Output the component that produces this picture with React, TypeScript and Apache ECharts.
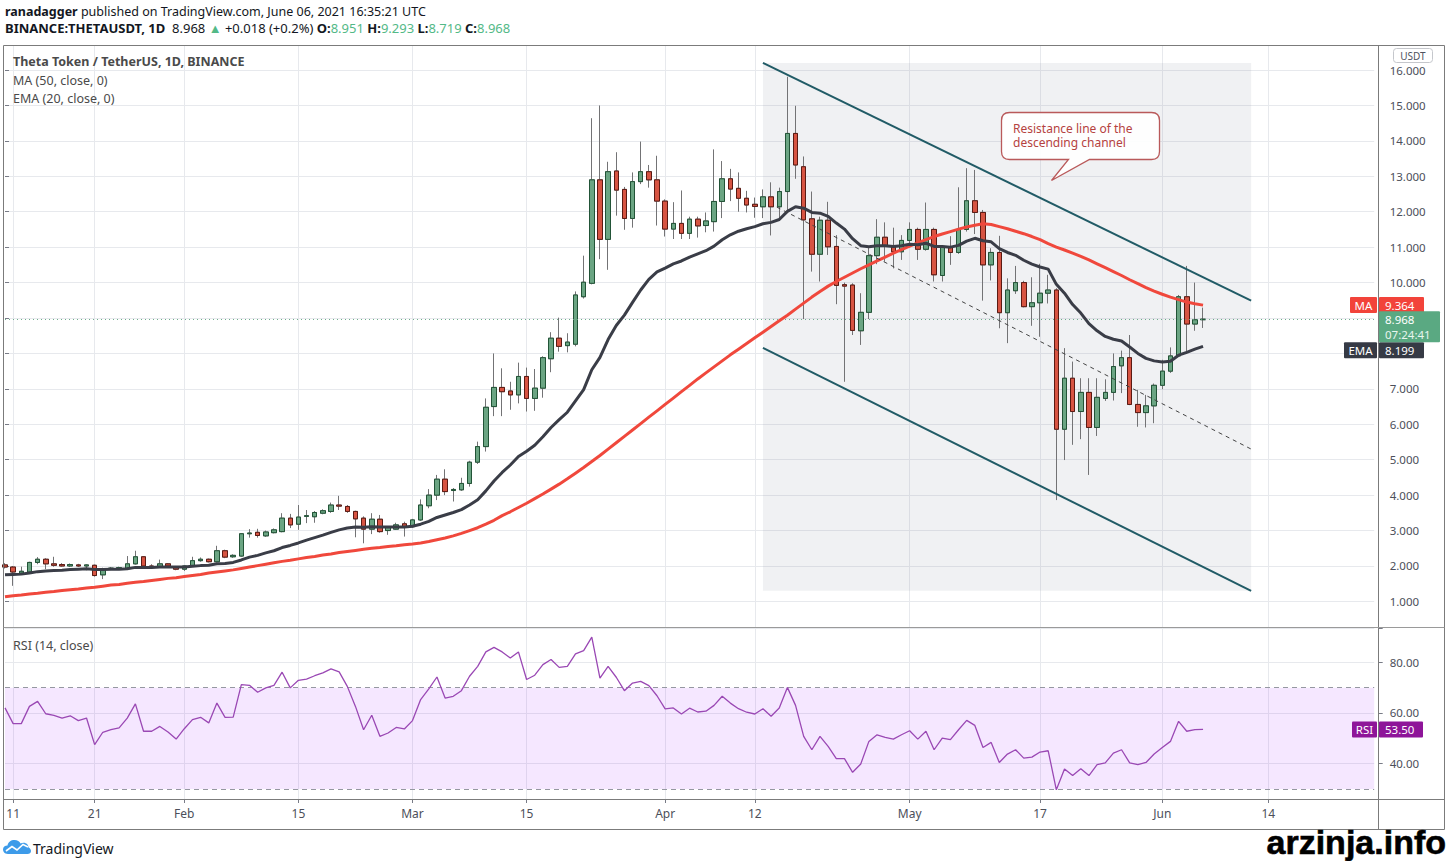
import React, { useEffect, useRef } from "react";
import * as echarts from "echarts";

const FONT = '"Noto Sans", "Open Sans", sans-serif';
const GRID_COLOR = "#e7e9ed";

// ---------- categories (one per day, Jan 10 .. Jun 27 2021) ----------
const START_UTC = Date.UTC(2021, 0, 10);
const DAY_COUNT = 169;
const DATES: string[] = Array.from({ length: DAY_COUNT }, (_, i) =>
  new Date(START_UTC + i * 86400000).toISOString().slice(0, 10)
);

const TICK_LABELS: Record<string, string> = {
  "2021-01-11": "11",
  "2021-01-21": "21",
  "2021-02-01": "Feb",
  "2021-02-15": "15",
  "2021-03-01": "Mar",
  "2021-03-15": "15",
  "2021-04-01": "Apr",
  "2021-04-12": "12",
  "2021-05-01": "May",
  "2021-05-17": "17",
  "2021-06-01": "Jun",
  "2021-06-14": "14",
};
// price ticks whose labels are hidden behind the price / EMA tags in the reference
const COVERED_PRICE_TICKS = [8, 9];

// ---------- OHLC (Jan 10 .. Jun 6) ----------
const OPEN = [
  2.03, 1.97, 1.8, 1.83, 2.1, 2.19, 2.06, 2.04, 2.0, 2.03,
  2.0, 2.02, 1.75, 1.92, 1.94, 1.94, 2.06, 2.26, 2.0, 1.97,
  2.06, 1.98, 1.91, 2.01, 2.15, 2.19, 2.12, 2.43, 2.26, 2.28,
  2.91, 2.95, 2.85, 2.94, 2.97, 3.35, 3.18, 3.4, 3.39, 3.49,
  3.54, 3.72, 3.68, 3.54, 3.35, 3.04, 3.32, 3.0, 3.04, 3.19,
  3.11, 3.3, 3.7, 4.0, 4.45, 4.13, 4.15, 4.33, 4.93, 5.37,
  6.5, 7.04, 6.94, 6.83, 7.35, 6.73, 7.02, 7.85, 8.43, 8.22,
  8.26, 9.6, 9.98, 12.9, 11.22, 13.15, 12.63, 11.81, 12.85, 13.13,
  12.9, 12.3, 11.51, 11.67, 11.39, 11.79, 11.61, 11.72, 12.29, 12.93,
  12.66, 12.38, 12.21, 12.14, 12.42, 12.14, 12.57, 14.21, 13.27, 11.8,
  10.8, 11.76, 11.02, 9.94, 9.93, 8.64, 9.16, 10.76, 11.28, 11.04,
  10.87, 11.19, 11.5, 10.94, 11.5, 10.2, 10.99, 10.85, 11.5, 12.31,
  11.98, 10.5, 10.85, 9.15, 9.77, 10.0, 9.32, 9.43, 9.7, 9.79,
  5.86, 7.3, 6.36, 6.9, 5.91, 6.73, 6.9, 7.65, 7.88, 6.56,
  6.33, 6.52, 7.1, 7.5, 7.93, 9.6, 8.83, 8.951,
];
const HIGH = [
  2.08, 2.0, 1.98, 2.12, 2.25, 2.22, 2.26, 2.08, 2.07, 2.06,
  2.05, 2.04, 1.95, 1.97, 1.98, 2.28, 2.43, 2.28, 2.05, 2.18,
  2.08, 2.0, 2.02, 2.26, 2.24, 2.21, 2.57, 2.46, 2.33, 2.93,
  3.04, 3.05, 3.0, 3.06, 3.49, 3.47, 3.72, 3.58, 3.55, 3.6,
  3.79, 3.98, 3.72, 3.56, 3.4, 3.49, 3.44, 3.12, 3.22, 3.25,
  3.33, 3.88, 4.17, 4.57, 4.73, 4.2, 4.49, 4.97, 5.51, 6.73,
  8.0, 7.58, 7.2, 7.74, 7.6, 7.56, 7.92, 8.6, 9.01, 8.57,
  9.75, 10.76, 14.64, 15.0, 13.41, 13.68, 12.7, 13.11, 13.98, 13.32,
  13.58, 12.35, 12.27, 12.6, 11.86, 11.86, 11.98, 13.76, 13.43, 13.21,
  13.11, 12.59, 12.4, 12.63, 12.83, 12.68, 15.81, 14.99, 13.56, 12.57,
  11.86, 12.28, 11.34, 10.0, 9.98, 9.7, 11.02, 11.79, 11.7, 11.55,
  11.34, 11.7, 11.55, 12.26, 11.55, 11.06, 11.31, 12.69, 13.23, 13.18,
  12.05, 10.97, 11.32, 10.12, 10.47, 10.05, 10.15, 10.53, 10.22, 9.84,
  8.15, 7.77, 7.3, 7.3, 7.3, 7.27, 8.0, 8.08, 8.52, 6.97,
  6.83, 7.15, 7.82, 8.17, 9.65, 10.47, 10.0, 9.293,
];
const LOW = [
  1.93, 1.44, 1.78, 1.8, 2.05, 1.91, 1.98, 1.98, 1.97, 1.97,
  1.88, 1.7, 1.63, 1.89, 1.91, 1.92, 2.04, 1.98, 1.95, 1.95,
  1.98, 1.88, 1.86, 1.99, 2.12, 2.1, 2.1, 2.22, 2.23, 2.26,
  2.8, 2.8, 2.82, 2.92, 2.95, 3.07, 3.02, 3.21, 3.22, 3.46,
  3.5, 3.58, 3.5, 2.81, 2.64, 2.9, 2.94, 2.88, 3.02, 2.83,
  3.08, 3.27, 3.63, 3.86, 4.0, 3.82, 4.12, 4.24, 4.88, 5.23,
  6.23, 6.23, 6.41, 6.59, 6.36, 6.38, 6.75, 7.47, 8.05, 8.03,
  8.2, 9.55, 9.95, 10.66, 10.36, 11.89, 11.49, 11.55, 12.78, 12.68,
  11.61, 11.3, 11.23, 11.23, 11.23, 11.27, 11.42, 11.44, 11.82, 12.3,
  12.0, 11.98, 11.83, 11.82, 11.33, 11.82, 12.0, 12.93, 8.97, 10.31,
  10.03, 10.78, 9.39, 7.2, 8.52, 8.24, 8.97, 10.52, 10.59, 10.4,
  10.64, 11.11, 10.64, 10.9, 10.03, 10.03, 10.5, 10.81, 11.44, 11.37,
  9.49, 10.06, 8.71, 8.29, 9.68, 9.3, 8.78, 8.47, 9.41, 3.86,
  4.99, 5.42, 5.58, 4.57, 5.67, 6.66, 6.67, 6.88, 6.54, 5.93,
  5.91, 6.03, 6.99, 7.45, 7.9, 7.99, 8.64, 8.719,
];
const CLOSE = [
  1.97, 1.83, 1.85, 2.1, 2.19, 2.06, 2.02, 2.0, 2.04, 2.0,
  2.03, 1.73, 1.91, 1.94, 1.95, 2.06, 2.26, 2.0, 1.98, 2.06,
  2.0, 1.91, 2.0, 2.15, 2.19, 2.12, 2.43, 2.25, 2.3, 2.91,
  2.93, 2.86, 2.96, 3.02, 3.35, 3.16, 3.38, 3.42, 3.51, 3.56,
  3.72, 3.69, 3.54, 3.33, 3.04, 3.32, 2.97, 3.09, 3.16, 3.11,
  3.3, 3.72, 4.0, 4.45, 4.1, 4.16, 4.33, 4.93, 5.37, 6.48,
  7.04, 6.92, 6.83, 7.35, 6.73, 7.02, 7.88, 8.43, 8.2, 8.32,
  9.65, 10.01, 12.9, 11.22, 13.13, 12.61, 11.81, 12.85, 13.13, 12.9,
  12.3, 11.51, 11.67, 11.39, 11.79, 11.6, 11.74, 12.29, 12.93, 12.64,
  12.38, 12.19, 12.15, 12.42, 12.14, 12.57, 14.21, 13.32, 11.77, 10.8,
  11.76, 11.01, 9.92, 9.9, 8.65, 9.16, 10.76, 11.28, 11.02, 10.87,
  11.19, 11.5, 10.94, 11.5, 10.22, 11.02, 10.85, 11.5, 12.31, 11.98,
  10.5, 10.85, 9.15, 9.79, 10.0, 9.32, 9.43, 9.7, 9.79, 5.86,
  7.3, 6.36, 6.9, 5.91, 6.76, 6.9, 7.63, 7.88, 6.56, 6.33,
  6.52, 7.1, 7.5, 7.93, 9.6, 8.83, 8.95, 8.968,
];

// ---------- indicators ----------
const MA50 = [
  1.13, 1.16, 1.18, 1.21, 1.23, 1.26, 1.28, 1.31, 1.33, 1.35,
  1.38, 1.4, 1.43, 1.46, 1.48, 1.51, 1.54, 1.56, 1.59, 1.62,
  1.65, 1.67, 1.7, 1.73, 1.76, 1.8, 1.83, 1.86, 1.89, 1.93,
  1.97, 2.01, 2.05, 2.09, 2.13, 2.16, 2.2, 2.24, 2.27, 2.31,
  2.34, 2.38, 2.41, 2.44, 2.47, 2.5, 2.52, 2.55, 2.57, 2.6,
  2.62, 2.65, 2.69, 2.74, 2.79, 2.85, 2.92, 3.0, 3.08, 3.18,
  3.29, 3.42, 3.53, 3.65, 3.77, 3.9, 4.03, 4.17, 4.31, 4.46,
  4.62, 4.78, 4.95, 5.12, 5.3, 5.48, 5.66, 5.84, 6.02, 6.2,
  6.38, 6.56, 6.74, 6.92, 7.1, 7.28, 7.45, 7.62, 7.79, 7.96,
  8.12, 8.28, 8.44, 8.6, 8.76, 8.92, 9.08, 9.25, 9.42, 9.59,
  9.75, 9.9, 10.03, 10.15, 10.27, 10.39, 10.5, 10.61, 10.72, 10.83,
  10.93, 11.03, 11.12, 11.21, 11.3, 11.37, 11.44, 11.51, 11.57, 11.62,
  11.66, 11.64, 11.58, 11.52, 11.45, 11.38, 11.3, 11.21, 11.1, 11.0,
  10.92, 10.83, 10.74, 10.64, 10.53, 10.42, 10.31, 10.2, 10.08, 9.97,
  9.86, 9.76, 9.67, 9.59, 9.52, 9.45, 9.4, 9.364,
];
const EMA20 = [
  1.75, 1.76, 1.77, 1.8, 1.84, 1.86, 1.87, 1.88, 1.9, 1.91,
  1.92, 1.9, 1.9, 1.91, 1.91, 1.92, 1.96, 1.96, 1.96, 1.97,
  1.97, 1.97, 1.97, 1.99, 2.01, 2.02, 2.06, 2.07, 2.1, 2.17,
  2.25, 2.3, 2.37, 2.43, 2.52, 2.58, 2.65, 2.73, 2.8, 2.87,
  2.95, 3.02, 3.07, 3.1, 3.09, 3.11, 3.1, 3.1, 3.1, 3.1,
  3.12, 3.18, 3.26, 3.37, 3.44, 3.51, 3.59, 3.72, 3.87, 4.12,
  4.4, 4.64, 4.85, 5.09, 5.24, 5.41, 5.65, 5.91, 6.13, 6.34,
  6.66, 6.98, 7.54, 7.89, 8.39, 8.79, 9.08, 9.44, 9.79, 10.09,
  10.3, 10.41, 10.53, 10.61, 10.72, 10.81, 10.9, 11.03, 11.21, 11.35,
  11.45, 11.52, 11.58, 11.66, 11.7, 11.78, 12.01, 12.14, 12.1, 11.98,
  11.96, 11.87, 11.68, 11.51, 11.24, 11.04, 11.01, 11.04, 11.04, 11.02,
  11.04, 11.08, 11.07, 11.11, 11.02, 11.02, 11.0, 11.05, 11.17, 11.25,
  11.18, 11.15, 10.96, 10.85, 10.77, 10.63, 10.52, 10.44, 10.38, 9.95,
  9.7, 9.38, 9.14, 8.84, 8.64, 8.48, 8.4, 8.35, 8.18, 8.0,
  7.86, 7.79, 7.76, 7.78, 7.95, 8.03, 8.12, 8.199,
];
const RSI14 = [
  62.0, 55.8, 55.8, 62.6, 64.6, 59.7, 59.1, 58.0, 58.9, 57.0,
  58.0, 47.5, 52.4, 53.4, 54.1, 58.0, 63.6, 52.8, 52.8, 54.7,
  52.5, 49.7, 53.8, 57.4, 58.3, 56.1, 63.9, 58.3, 58.4, 71.2,
  70.9, 68.2, 69.9, 70.9, 76.1, 69.9, 72.9, 73.4, 74.7, 75.8,
  77.4, 76.2, 70.5, 62.6, 53.4, 59.1, 50.8, 52.1, 54.3, 53.7,
  57.0, 65.3, 69.5, 74.2, 65.9, 66.6, 68.8, 74.5, 78.4, 84.1,
  85.9, 84.1, 81.7, 84.1, 73.2, 74.9, 79.1, 81.1, 78.0, 78.4,
  83.3, 84.6, 89.9, 73.8, 78.4, 74.1, 68.8, 71.8, 72.5, 70.8,
  66.8, 61.6, 62.0, 59.6, 61.9, 60.4, 60.7, 63.0, 66.6, 63.9,
  61.7, 60.3, 59.6, 61.7, 58.7, 62.0, 70.1, 63.0, 50.8, 45.5,
  50.8, 46.8, 42.0, 42.0, 36.6, 39.9, 48.8, 51.4, 50.4, 49.7,
  51.4, 53.0, 49.7, 52.8, 45.5, 50.1, 49.5, 53.4, 57.1, 55.1,
  46.4, 48.4, 40.5, 43.8, 45.5, 42.2, 42.6, 44.6, 45.1, 29.7,
  37.9, 35.3, 38.0, 35.3, 39.6, 40.3, 44.2, 45.5, 40.3, 39.6,
  40.5, 43.8, 46.4, 48.8, 56.7, 52.8, 53.4, 53.5,
];

const LAST_PRICE = 8.968;
const LAST_MA = 9.364;
const LAST_EMA = 8.199;
const LAST_RSI = 53.5;
const RSI_UPPER = 70;
const RSI_LOWER = 30;

// ---------- drawings, anchored as [day index, price] ----------
const CHANNEL_UPPER = [[93.0, 16.2], [152.9, 9.49]];
const CHANNEL_LOWER = [[93.0, 8.155], [152.9, 1.3]];
const CHANNEL_MID = [[94.7, 12.13], [152.9, 5.3]];
const SHADE_FROM = [93.0, 16.2];
const SHADE_TO = [152.9, 1.3];

// ---------- shapes ----------
const CALLOUT_PATH =
  "M8 0 H150 Q158 0 158 8 V39 Q158 47 150 47 H88 L50 68 L67 47 H8 Q0 47 0 39 V8 Q0 0 8 0 Z";
const TV_CLOUD_PATH =
  "M5 15 C1 15 0 12 0 10.5 C0 8 2 6.5 4.5 6.5 C5 3 8 1 11.5 1 C14.5 1 16.5 2.5 17.5 4.5 C18.5 4 19.5 3.8 20.5 3.8 C23.5 3.8 25.5 6 25.5 8.5 C27 9 28 10.5 28 12 C28 14 26.5 15 24.5 15 Z";
echarts.graphic.registerShape("callout", echarts.graphic.extendPath(CALLOUT_PATH, {}));
echarts.graphic.registerShape("tvcloud", echarts.graphic.extendPath(TV_CLOUD_PATH, {}));

const tickFilter = (_i: number, v: string) => v in TICK_LABELS;
const near = (v: number, step: number) => Math.abs(v / step - Math.round(v / step)) < 1e-6;

function buildOption(): any {
  const candles = OPEN.map((o, i) => [o, CLOSE[i], LOW[i], HIGH[i]]);
  const bodies = OPEN.map((o, i) => [o, CLOSE[i], Math.min(o, CLOSE[i]), Math.max(o, CLOSE[i])]);
  return {
    animation: false,
    backgroundColor: "#ffffff",
    textStyle: { fontFamily: FONT },
    grid: [
      { left: 5, right: 76.8, top: 45, height: 582 },
      { left: 5, right: 76.8, top: 628, height: 171 },
    ],
    xAxis: [
      {
        type: "category", gridIndex: 0, data: DATES, boundaryGap: false,
        axisLine: { show: false }, axisTick: { show: false }, axisLabel: { show: false },
        splitLine: { show: true, interval: tickFilter, lineStyle: { color: GRID_COLOR } },
      },
      {
        type: "category", gridIndex: 1, data: DATES, boundaryGap: false,
        axisLine: { show: false },
        axisTick: { show: true, interval: tickFilter, length: 4, lineStyle: { color: "#787b86" } },
        axisLabel: {
          show: true, interval: tickFilter, formatter: (v: string) => TICK_LABELS[v] ?? "",
          color: "#4c4f5a", fontSize: 12, margin: 8, fontFamily: FONT,
        },
        splitLine: { show: true, interval: tickFilter, lineStyle: { color: GRID_COLOR } },
      },
      { type: "value", gridIndex: 0, min: 0, max: 168, show: false },
    ],
    yAxis: [
      {
        type: "value", gridIndex: 0, position: "right", offset: 4.5,
        min: 0.2774, max: 16.7066, minInterval: 1, maxInterval: 1,
        axisLine: { show: false },
        axisTick: { show: true, length: 4, lineStyle: { color: "#787b86" } },
        axisLabel: {
          color: "#4c4f5a", fontSize: 11.5, margin: 11, fontFamily: FONT,
          formatter: (v: number) =>
            near(v, 1) && !COVERED_PRICE_TICKS.includes(Math.round(v)) ? v.toFixed(3) : "",
        },
        splitLine: { show: true, lineStyle: { color: GRID_COLOR } },
      },
      {
        type: "value", gridIndex: 1, position: "right", offset: 4.5,
        min: 26.07, max: 93.53, minInterval: 20, maxInterval: 20,
        axisLine: { show: false },
        axisTick: { show: true, length: 4, lineStyle: { color: "#787b86" } },
        axisLabel: {
          color: "#4c4f5a", fontSize: 11.5, margin: 11, fontFamily: FONT,
          formatter: (v: number) => (near(v, 20) ? v.toFixed(2) : ""),
        },
        splitLine: { show: true, lineStyle: { color: GRID_COLOR } },
      },
    ],
    series: [
      {
        name: "shade", type: "line", xAxisIndex: 2, yAxisIndex: 0, z: 1, silent: true,
        data: [SHADE_FROM, SHADE_TO], showSymbol: false, symbol: "none",
        lineStyle: { width: 0, opacity: 0 },
        markArea: {
          silent: true,
          itemStyle: { color: "rgba(140,145,160,0.13)" },
          data: [[{ coord: SHADE_FROM }, { coord: SHADE_TO }]],
        },
      },
      {
        name: "wicks", type: "candlestick", xAxisIndex: 0, yAxisIndex: 0, z: 3,
        barWidth: 5, clip: false, silent: true, data: candles,
        itemStyle: {
          color: "#737375", color0: "#737375", borderColor: "#737375",
          borderColor0: "#737375", borderWidth: 1,
        },
      },
      {
        name: "bodies", type: "candlestick", xAxisIndex: 0, yAxisIndex: 0, z: 4,
        barWidth: 5, clip: false, silent: true, data: bodies,
        itemStyle: {
          color: "#6ba583", color0: "#d75442", borderColor: "#225437",
          borderColor0: "#5b1a13", borderWidth: 1,
        },
        markLine: {
          silent: true, symbol: ["none", "none"], label: { show: false },
          lineStyle: { color: "#5fa47f", type: [1, 3], width: 1, opacity: 0.9 },
          data: [{ yAxis: LAST_PRICE }],
        },
      },
      {
        name: "MA", type: "line", xAxisIndex: 0, yAxisIndex: 0, z: 5, silent: true,
        data: MA50, symbol: "none", lineStyle: { color: "#f0483c", width: 3 },
      },
      {
        name: "EMA", type: "line", xAxisIndex: 0, yAxisIndex: 0, z: 5, silent: true,
        data: EMA20, symbol: "none", lineStyle: { color: "#3a3d47", width: 3 },
      },
      {
        name: "upper", type: "line", xAxisIndex: 2, yAxisIndex: 0, z: 6, silent: true,
        data: CHANNEL_UPPER, symbol: "none", lineStyle: { color: "#215b66", width: 2 },
      },
      {
        name: "lower", type: "line", xAxisIndex: 2, yAxisIndex: 0, z: 6, silent: true,
        data: CHANNEL_LOWER, symbol: "none", lineStyle: { color: "#215b66", width: 2 },
      },
      {
        name: "mid", type: "line", xAxisIndex: 2, yAxisIndex: 0, z: 6, silent: true,
        data: CHANNEL_MID, symbol: "none",
        lineStyle: { color: "#444", width: 1, type: [4, 4] },
      },
      {
        name: "RSI", type: "line", xAxisIndex: 1, yAxisIndex: 1, z: 5, silent: true,
        data: RSI14, symbol: "none", lineStyle: { color: "#9a48b4", width: 1.3 },
        markArea: {
          silent: true,
          itemStyle: { color: "rgba(153,21,255,0.1)" },
          data: [[{ yAxis: RSI_LOWER }, { yAxis: RSI_UPPER }]],
        },
        markLine: {
          silent: true, symbol: ["none", "none"], label: { show: false },
          lineStyle: { color: "#9598a1", type: [5, 4], width: 1 },
          data: [{ yAxis: RSI_UPPER }, { yAxis: RSI_LOWER }],
        },
      },
    ],
  };
}

function buildGraphics(py: (v: number) => number, ry: (v: number) => number): any[] {
  const Z = 100;
  const els: any[] = [];
  const text = (x: number, y: number, t: string, extra: any = {}) => ({
    type: "text", x, y, z: Z, silent: true,
    style: {
      text: t, fill: "#131722", fontSize: 12.5, fontFamily: FONT,
      align: "left", verticalAlign: "middle", ...extra,
    },
  });
  const line = (x1: number, y1: number, x2: number, y2: number, stroke = "#7b7b7b") => ({
    type: "line", z: Z, silent: true, shape: { x1, y1, x2, y2 }, style: { stroke, lineWidth: 1 },
  });
  const box = (x: number, yc: number, w: number, h: number, fill: string, t: string, center: boolean) => [
    { type: "rect", z: Z, silent: true, shape: { x, y: yc - h / 2, width: w, height: h, r: 1 }, style: { fill } },
    {
      type: "text", z: Z + 1, silent: true, x: center ? x + w / 2 : x + 6, y: yc,
      style: {
        text: t, fill: "#ffffff", fontSize: 11.5, fontFamily: FONT,
        align: center ? "center" : "left", verticalAlign: "middle",
      },
    },
  ];

  // header
  els.push(
    text(5, 11, "{b|ranadagger} published on TradingView.com, June 06, 2021 16:35:21 UTC", {
      rich: { b: { fontWeight: "bold", fontSize: 12.5, fontFamily: FONT, fill: "#131722" } },
    })
  );
  els.push(
    text(
      5, 28,
      "{b|BINANCE:THETAUSDT, 1D}  8.968 {g|▲} +0.018 (+0.2%) {b|O:}{g|8.951} {b|H:}{g|9.293} {b|L:}{g|8.719} {b|C:}{g|8.968}",
      {
        fontSize: 13,
        rich: {
          b: { fontWeight: "bold", fontSize: 13, fontFamily: FONT, fill: "#131722" },
          g: { fontSize: 13, fontFamily: FONT, fill: "#53b987" },
        },
      }
    )
  );

  // legends
  els.push(text(13, 61, "Theta Token / TetherUS, 1D, BINANCE", { fill: "#4a4a4a", fontWeight: "bold" }));
  els.push(text(13, 80, "MA (50, close, 0)", { fill: "#4a4a4a" }));
  els.push(text(13, 98, "EMA (20, close, 0)", { fill: "#4a4a4a" }));
  els.push(text(13, 645, "RSI (14, close)", { fill: "#4a4a4a" }));

  // callout
  els.push({
    type: "callout", x: 1001.5, y: 112.5, z: Z, silent: true,
    style: { fill: "rgba(255,255,255,0.92)", stroke: "#b9595a", lineWidth: 1.3 },
  });
  els.push(
    text(1013, 135.3, "Resistance line of the\ndescending channel", {
      fill: "#b5423f", fontSize: 12, lineHeight: 14.5,
    })
  );

  // frame
  els.push(line(3.5, 45.5, 1444.5, 45.5));
  els.push(line(3.5, 829.5, 1444.5, 829.5));
  els.push(line(3.5, 45.5, 3.5, 829.5));
  els.push(line(1444.5, 45.5, 1444.5, 829.5));
  els.push(line(1378.5, 45.5, 1378.5, 829.5));
  els.push(line(3.5, 627.5, 1444.5, 627.5, "#9a9a9a"));
  els.push(line(3.5, 799.5, 1444.5, 799.5));

  // USDT badge (kept above the 16.000 label)
  els.push({
    type: "rect", z: Z, silent: true,
    shape: { x: 1393.5, y: 48.5, width: 39, height: 14, r: 3 },
    style: { fill: "#ffffff", stroke: "#c5c7cc", lineWidth: 1 },
  });
  els.push(text(1413, 55.5, "USDT", { fill: "#50535e", fontSize: 10, align: "center" }));

  // price labels on the right axis
  const yMA = py(LAST_MA);
  const yP = py(LAST_PRICE);
  const yE = Math.max(py(LAST_EMA), yP + 31);
  els.push(...box(1350, yMA, 27, 16, "#f2433a", "MA", true));
  els.push(...box(1379, yMA, 45, 16, "#f2433a", LAST_MA.toFixed(3), false));
  els.push({
    type: "rect", z: Z + 2, silent: true,
    shape: { x: 1379, y: yP - 8, width: 61, height: 31, r: 1 },
    style: { fill: "#5aa982" },
  });
  els.push({ ...text(1385, yP, LAST_PRICE.toFixed(3), { fill: "#ffffff", fontSize: 11.5 }), z: Z + 3 });
  els.push({ ...text(1385, yP + 15, "07:24:41", { fill: "#e8f5ee", fontSize: 11.5 }), z: Z + 3 });
  els.push(...box(1344, yE, 33, 16, "#363a45", "EMA", true));
  els.push(...box(1379, yE, 45, 16, "#363a45", LAST_EMA.toFixed(3), false));

  const yR = ry(LAST_RSI);
  els.push(...box(1352, yR, 25, 16, "#8e1599", "RSI", true));
  els.push(...box(1379, yR, 44, 16, "#8e1599", LAST_RSI.toFixed(2), false));

  // footer
  els.push({ type: "tvcloud", x: 3, y: 839, z: Z, silent: true, style: { fill: "#3d9be9" } });
  els.push({
    type: "polyline", z: Z + 1, silent: true,
    shape: { points: [[6, 851], [12, 846.5], [17, 850], [23, 844.5], [28, 847]] },
    style: { stroke: "#ffffff", lineWidth: 1.6, fill: null },
  });
  els.push(text(33, 848, "TradingView", { fontSize: 14, fill: "#131722" }));
  els.push(
    text(1446, 842, "arzinja.info", {
      fontSize: 34, fontWeight: "bold", fontFamily: '"Liberation Sans", Arial, sans-serif',
      fill: "#000000", stroke: "#000000", lineWidth: 0.6, align: "right",
    })
  );
  return els;
}

export default function App() {
  const ref = useRef<HTMLDivElement>(null);
  useEffect(() => {
    document.body.style.margin = "0";
    const chart = echarts.init(ref.current as HTMLDivElement, undefined, { renderer: "svg" });
    chart.setOption(buildOption());
    const py = (v: number) => chart.convertToPixel({ yAxisIndex: 0 }, v) as unknown as number;
    const ry = (v: number) => chart.convertToPixel({ yAxisIndex: 1 }, v) as unknown as number;
    chart.setOption({ graphic: { elements: buildGraphics(py, ry) } });
    return () => chart.dispose();
  }, []);
  return <div ref={ref} style={{ width: 1451, height: 861 }} />;
}
